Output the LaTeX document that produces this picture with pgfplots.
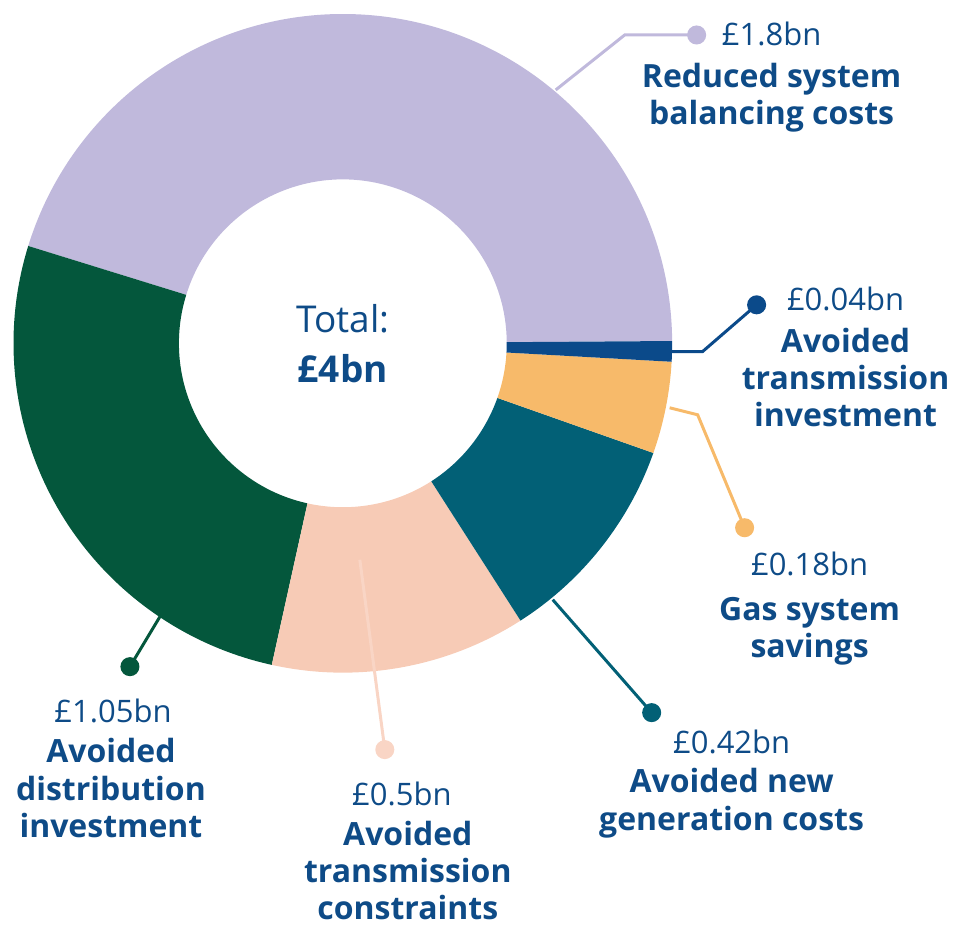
\documentclass[border=0pt]{standalone}
\usepackage{pgfplots}
\pgfplotsset{compat=1.18}
\usepackage{pgfplotstable}
\usepackage{fontspec}
\setmainfont{Open Sans}
\usetikzlibrary{calc}
\definecolor{cpurple}{HTML}{C0B9DC}
\definecolor{cgreen}{HTML}{04573C}
\definecolor{cpeach}{HTML}{F7CBB6}
\definecolor{cteal}{HTML}{026076}
\definecolor{corange}{HTML}{F7BA6A}
\definecolor{cnavy}{HTML}{0B4A8A}
\definecolor{tblue}{HTML}{0E4B87}

\pgfplotstableread{
value colour
1.8  cpurple
1.05 cgreen
0.5  cpeach
0.42 cteal
0.18 corange
0.04 cnavy
}\donut

\newcommand\valfont{\fontsize{15.5}{18}\selectfont}
\newcommand\capfont{\fontsize{16}{18}\selectfont\bfseries}

\begin{document}
\begin{tikzpicture}
\begin{axis}[width=478pt, height=462.5pt, scale only axis, hide axis,
  xmin=0, xmax=956, ymin=0, ymax=925, clip=false]
% fixed page area
\path (axis cs:0,0) rectangle (axis cs:956,925);
% donut segments, counter-clockwise from the right
% (overlay: arc control points must not widen the bounding box)
\xdef\angA{0.4}
\pgfplotsinvokeforeach{0,...,5}{
  \pgfplotstablegetelem{#1}{value}\of\donut \let\val\pgfplotsretval
  \pgfplotstablegetelem{#1}{colour}\of\donut \let\col\pgfplotsretval
  \pgfmathsetmacro\angB{\angA+\val*360/3.99}
  \edef\seg{\noexpand\fill[\col, overlay] ($(axis cs:343,581.5)+(\angA:164.75pt)$)
    arc[start angle=\angA, end angle=\angB, radius=164.75pt]
    -- ($(axis cs:343,581.5)+(\angB:82pt)$)
    arc[start angle=\angB, end angle=\angA, radius=82pt] -- cycle;}
  \seg
  \xdef\angA{\angB}
}
% leader lines
\addplot[cpurple, line width=1.5pt, mark=*, mark size=4pt, mark indices={3}] coordinates {(556,835) (625,890) (697,890)};
\addplot[cnavy, line width=1.5pt, mark=*, mark size=4pt, mark indices={3}] coordinates {(672,573.3) (703,573.3) (757,620)};
\addplot[corange, line width=1.5pt, mark=*, mark size=4pt, mark indices={3}] coordinates {(670,517) (698,510) (745,397)};
\addplot[cteal, line width=1.5pt, mark=*, mark size=4pt, mark indices={2}] coordinates {(553,325) (652,212)};
\addplot[cpeach!80!white, line width=1.5pt, mark=*, mark size=4pt, mark indices={2}] coordinates {(360,365) (385,175)};
\addplot[cgreen, line width=1.5pt, mark=*, mark size=4pt, mark indices={2}] coordinates {(160,308) (130,258)};
% centre
\node[anchor=base, text=tblue, font=\fontsize{18.5}{22}\selectfont] at (axis cs:343,592) {Total:};
\node[anchor=base, text=tblue, font=\fontsize{18.5}{22}\selectfont\bfseries] at (axis cs:343,542) {£4bn};
% labels
\node[anchor=base, text=tblue, font=\valfont] at (axis cs:772,879) {£1.8bn};
\node[anchor=base, text=tblue, font=\capfont] at (axis cs:772,837) {Reduced system};
\node[anchor=base, text=tblue, font=\capfont] at (axis cs:772,800) {balancing costs};

\node[anchor=base, text=tblue, font=\valfont] at (axis cs:846,614) {£0.04bn};
\node[anchor=base, text=tblue, font=\capfont] at (axis cs:846,572) {Avoided};
\node[anchor=base, text=tblue, font=\capfont] at (axis cs:846,535) {transmission};
\node[anchor=base, text=tblue, font=\capfont] at (axis cs:846,498) {investment};

\node[anchor=base, text=tblue, font=\valfont] at (axis cs:810,349) {£0.18bn};
\node[anchor=base, text=tblue, font=\capfont] at (axis cs:810,304) {Gas system};
\node[anchor=base, text=tblue, font=\capfont] at (axis cs:810,267) {savings};

\node[anchor=base, text=tblue, font=\valfont] at (axis cs:732,171) {£0.42bn};
\node[anchor=base, text=tblue, font=\capfont] at (axis cs:732,132) {Avoided new};
\node[anchor=base, text=tblue, font=\capfont] at (axis cs:732,94) {generation costs};

\node[anchor=base, text=tblue, font=\valfont] at (axis cs:402,119) {£0.5bn};
\node[anchor=base, text=tblue, font=\capfont] at (axis cs:408,79) {Avoided};
\node[anchor=base, text=tblue, font=\capfont] at (axis cs:408,42) {transmission};
\node[anchor=base, text=tblue, font=\capfont] at (axis cs:408,5) {constraints};

\node[anchor=base, text=tblue, font=\valfont] at (axis cs:113,202) {£1.05bn};
\node[anchor=base, text=tblue, font=\capfont] at (axis cs:111,162) {Avoided};
\node[anchor=base, text=tblue, font=\capfont] at (axis cs:111,124) {distribution};
\node[anchor=base, text=tblue, font=\capfont] at (axis cs:111,87) {investment};
\end{axis}
\end{tikzpicture}
\end{document}
